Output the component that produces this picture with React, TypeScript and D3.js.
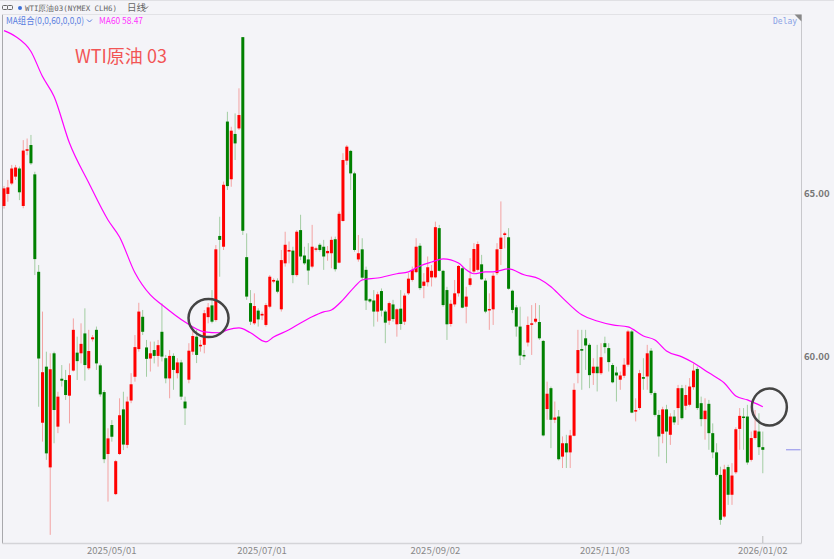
import React from "react";
import * as d3 from "d3";

// OHLC (index 0 .. 197, daily candles)
const opens = [64.63,65.00,65.32,65.53,65.78,64.63,66.33,66.50,65.60,62.61,57.98,59.70,56.61,60.11,57.86,59.33,59.29,58.81,59.58,60.13,60.11,60.72,59.65,60.54,60.83,59.74,58.92,57.02,57.91,55.79,57.02,58.39,57.30,58.66,59.39,60.24,61.23,60.29,59.95,60.21,60.03,60.77,59.96,59.34,60.03,59.50,59.83,58.63,59.30,60.16,60.62,60.34,60.37,61.22,61.58,61.13,63.71,63.38,67.22,65.45,66.84,67.01,69.81,63.06,61.65,61.03,61.42,61.27,60.98,61.54,62.31,62.34,61.46,62.87,63.23,63.26,62.51,63.89,63.11,62.99,62.77,63.30,63.44,63.38,63.18,63.18,63.61,62.89,64.17,66.02,66.32,65.63,62.99,63.30,62.67,61.77,61.73,61.39,62.02,61.39,61.11,61.61,61.00,61.48,61.08,61.95,62.36,62.60,63.41,62.18,62.29,62.44,62.44,63.95,62.64,62.05,61.01,61.61,61.95,62.72,61.54,62.21,62.62,62.67,62.84,62.34,61.44,61.46,62.57,63.31,63.74,63.67,62.03,61.52,60.93,60.06,60.44,60.99,61.08,61.07,60.49,58.40,59.04,58.07,58.17,56.94,57.35,57.07,57.58,59.50,60.24,60.57,60.37,59.50,59.70,59.50,60.42,60.27,59.75,59.52,59.30,59.42,59.76,60.78,58.32,58.43,59.38,59.40,60.19,58.89,58.22,57.64,58.39,57.61,58.17,58.43,59.04,58.50,58.53,59.07,59.63,58.58,58.09,58.56,57.66,57.07,56.38,55.10,56.62,55.77,56.46,57.79,58.17,58.17,56.84,57.51,57.71,57.23];
const highs = [65.24,65.43,65.89,65.89,65.84,66.65,66.70,66.81,65.68,62.82,61.39,60.16,60.11,60.16,58.93,59.75,59.60,59.80,61.18,60.62,61.03,61.49,60.83,60.67,60.93,59.80,58.98,57.81,58.06,56.84,58.73,58.93,58.78,59.50,60.67,61.66,61.44,60.52,60.47,60.47,60.52,61.64,60.06,60.21,60.11,59.96,59.91,58.78,60.42,60.83,60.83,60.52,61.44,61.65,62.05,63.43,64.30,65.38,67.52,67.06,67.47,68.24,69.81,63.79,62.05,61.95,61.49,61.39,61.65,62.51,62.41,62.41,63.28,63.84,63.54,63.38,63.89,64.36,63.38,63.49,64.05,63.38,63.49,63.59,63.40,63.69,63.69,64.46,66.25,66.50,66.35,65.68,63.74,63.64,62.77,61.80,62.05,62.00,62.10,61.44,61.70,61.75,61.49,62.05,61.95,62.57,62.77,63.64,63.49,62.57,63.08,62.82,64.15,64.05,62.67,62.15,61.75,62.36,62.82,62.77,62.15,63.03,63.49,63.54,63.13,62.41,61.95,62.57,63.49,64.77,63.84,63.95,62.06,61.59,61.54,60.21,61.24,61.59,61.65,61.59,60.52,59.24,59.09,58.63,58.37,57.56,57.61,57.76,59.19,60.83,60.83,60.83,60.42,59.96,60.37,60.42,60.62,60.42,59.81,59.70,59.55,59.96,60.83,60.83,58.73,59.60,59.96,60.37,60.27,58.94,58.37,58.47,58.53,58.27,58.37,59.14,59.14,59.14,59.35,59.80,59.70,58.78,58.73,58.68,57.96,57.35,56.63,56.69,56.69,56.74,57.84,58.43,58.43,58.53,57.71,58.37,58.27,57.71];
const lows = [64.55,64.76,65.27,65.43,64.81,64.56,66.19,65.89,62.51,58.47,57.40,56.84,54.54,57.35,57.66,59.09,58.68,57.96,59.55,59.29,59.80,59.27,59.60,60.47,59.60,58.78,56.74,55.56,57.40,55.76,56.99,57.14,57.20,58.58,59.24,60.16,60.67,59.39,59.55,59.80,59.70,59.86,59.19,58.73,58.99,59.34,58.68,57.91,59.19,60.06,59.81,60.16,60.11,61.03,61.03,61.08,62.46,63.28,65.12,65.22,66.04,66.96,63.74,61.75,60.98,60.98,60.93,61.13,60.93,61.49,62.26,61.95,61.39,62.77,62.87,62.26,62.46,62.97,62.82,62.21,62.72,63.23,63.23,62.67,62.95,62.72,62.62,62.87,64.15,65.89,65.12,63.23,62.92,62.36,61.44,61.65,60.93,61.08,61.24,60.42,60.98,61.08,60.62,60.83,60.98,61.90,62.31,62.57,62.05,61.80,62.16,62.16,62.41,62.62,61.54,60.52,60.93,61.54,61.85,61.49,61.03,62.16,62.57,62.62,62.36,61.34,60.83,60.98,62.51,62.82,63.33,62.06,61.34,60.62,59.75,59.91,60.32,60.06,61.03,60.52,57.56,58.07,57.20,57.97,56.82,56.59,56.59,56.59,57.56,59.19,58.99,59.60,59.04,59.14,58.94,59.45,60.11,59.55,59.19,58.63,58.99,59.35,59.70,58.27,58.02,58.37,58.99,58.99,58.83,58.17,56.94,57.35,56.74,57.30,57.91,57.91,58.07,58.37,58.48,58.99,58.37,57.87,57.46,57.15,56.89,56.33,54.85,55.05,55.46,55.46,56.41,57.15,57.15,56.69,56.79,57.46,56.99,56.43];
const closes = [65.17,65.20,65.78,65.81,65.05,66.33,66.37,65.94,63.00,59.95,59.53,57.04,59.62,58.37,58.78,59.27,58.83,59.44,60.83,59.87,60.40,59.75,60.18,60.60,59.80,58.85,56.86,57.50,57.55,56.80,58.21,57.31,58.63,59.16,60.30,61.39,60.77,59.94,60.11,60.03,60.36,60.01,59.34,60.03,59.60,59.83,58.78,58.42,60.19,60.64,60.06,60.37,61.34,61.52,61.08,63.30,63.59,65.28,65.24,66.94,66.55,67.42,63.87,61.85,61.08,61.56,61.15,61.32,61.59,62.46,62.36,62.00,62.97,63.44,63.28,62.51,63.84,63.08,62.87,62.65,63.38,63.33,63.28,63.08,63.25,63.59,62.69,64.39,66.04,66.45,65.63,63.28,63.18,62.43,61.73,61.70,61.39,61.92,61.42,61.05,61.65,61.16,61.46,61.01,61.88,62.40,62.67,63.38,62.11,62.31,62.75,62.64,63.98,62.64,61.59,61.00,61.63,61.95,62.79,61.51,61.85,62.41,63.31,63.46,62.38,61.39,61.47,62.49,63.30,63.66,63.79,62.09,61.44,60.93,60.04,60.03,60.98,61.03,61.17,60.57,57.59,58.87,58.07,58.14,56.86,57.35,57.07,57.59,58.99,60.21,60.19,60.35,59.44,59.70,59.50,59.99,60.30,59.84,59.22,59.43,59.43,59.76,60.78,58.29,58.37,59.50,59.33,60.11,58.89,58.22,57.56,58.39,57.71,58.17,57.99,59.04,58.12,58.83,59.09,59.58,58.43,58.09,58.35,57.66,57.07,56.38,55.00,56.55,55.77,56.36,57.78,58.19,58.14,56.76,57.51,57.74,57.23,57.15];

// MA60 line (candle index, value)
const maIdx = [0,3,7,10,13,17,22,27,30,34,38,41,47,52,56,58,61,64,68,70,74,77,80,83,85,88,91,93,97,102,105,108,111,114,118,120,122,125,127,131,135,139,142,145,150,154,158,162,166,169,172,176,179,183,187,190,193,197];
const maVal = [70.01,69.83,69.37,68.60,67.99,66.56,65.34,64.20,63.68,62.58,61.90,61.60,61.07,60.77,60.74,60.83,60.89,60.74,60.46,60.61,60.83,61.04,61.23,61.38,61.44,61.75,62.15,62.36,62.42,62.55,62.61,62.79,62.91,63.01,62.88,62.67,62.55,62.61,62.61,62.70,62.52,62.39,62.15,61.81,61.29,61.10,60.98,60.92,60.64,60.52,60.18,60.00,59.82,59.51,59.20,58.80,58.68,58.47];

const dateLabels = ["2025/05/01", "2025/07/01", "2025/09/02", "2025/11/03", "2026/01/02"];
const dateIdx = [28, 67, 112, 156, 197];
const priceTicks = [60, 65];

// annotation circles (candle index, price)
const circleIdx = [53.1, 198.7];
const circleVal = [61.19, 58.46];

const lastPrice = 57.15;

const W = 834, H = 559;
const plotL = 2.5, plotR = 801.5, plotT = 14.5, plotB = 543.5;

export default function App() {
  const x = d3.scaleLinear().domain([0, 197]).range([4, 762.8]);
  const y = d3.scaleLinear().domain([54.29, 70.52]).range([543, 14]);
  const candles = opens.map((o, i) => ({ i, o, h: highs[i], l: lows[i], c: closes[i] }));
  const ma = maIdx.map((d, k) => [d, maVal[k]] as [number, number]);
  const line = d3.line<[number, number]>().x(d => x(d[0])).y(d => y(d[1])).curve(d3.curveMonotoneX);
  const RED = "#ff0000", GREEN = "#008000";
  const bw = 3;

  return (
    <svg width={W} height={H} style={{ position: "absolute", left: 0, top: 0, background: "#f4f4f8" }}
      fontFamily="'Noto Sans CJK SC', 'Noto Sans', sans-serif">
      <rect x={0} y={0} width={W} height={H} fill="#f4f4f8" />
      {/* frame */}
      <line x1={plotL} x2={plotL} y1={plotT} y2={plotB} stroke="#a8a8ac" />
      <line x1={plotR} x2={plotR} y1={plotT} y2={plotB} stroke="#c8c8cc" />
      <line x1={plotL} x2={plotR} y1={plotB} y2={plotB} stroke="#d4d4d8" strokeWidth={1.5} />
      <line x1={plotL} x2={plotR} y1={plotT} y2={plotT} stroke="#e2e2e6" />
      <path d={`M${plotR - 7},${plotT} L${plotR},${plotT} L${plotR},${plotT + 7} Z`} fill="#888" />
      <line x1={0} x2={W} y1={0.5} y2={0.5} stroke="#e0e0e4" />

      {/* header */}
      <g fill="none" stroke="#666" strokeWidth={1}>
        <rect x={2.5} y={5.5} width={5} height={4} rx={1} />
        <rect x={7.5} y={5.5} width={5} height={4} rx={1} />
      </g>
      <circle cx={20} cy={8} r={2} fill="#3b6fd8" />
      <text x={25} y={11} fontSize={7.5} fill="#666" fontFamily="'DejaVu Sans Mono', monospace" textLength={92} lengthAdjust="spacingAndGlyphs">WTI原油03(NYMEX CLH6)</text>
      <text x={127} y={11} fontSize={9.5} fill="#666">日线</text>
      <path d="M143,6.5 L145.5,9 L148,6.5" fill="none" stroke="#666" strokeWidth={1} />
      <text x={6} y={24} fontSize={9.5} fill="#5b80e0" textLength={78} lengthAdjust="spacingAndGlyphs">MA组合(0,0,60,0,0,0)</text>
      <path d="M87,19.5 L89.5,22 L92,19.5" fill="none" stroke="#5b80e0" strokeWidth={1} />
      <text x={99} y={24} fontSize={9.5} fill="#ff33ff" textLength={44} lengthAdjust="spacingAndGlyphs">MA60 58.47</text>
      <text x={773} y={24} fontSize={8} fill="#8aa2e6" fontFamily="'DejaVu Sans Mono', monospace">Delay</text>

      {/* title */}
      <text x={75} y={63} fontSize={18} fill="#f25555">WTI原油 03</text>

      {/* y axis labels */}
      {priceTicks.map(t => (
        <text key={t} x={804} y={y(t) + 3.5} fontSize={9.5} fill="#777" fontWeight="bold">{t.toFixed(2)}</text>
      ))}

      {/* x axis labels */}
      {dateLabels.map((lab, k) => (
        <text key={lab} x={x(dateIdx[k])} y={554} fontSize={9.5} fill="#888" textAnchor="middle">{lab}</text>
      ))}
      <line x1={x(dateIdx[dateIdx.length - 1])} x2={x(dateIdx[dateIdx.length - 1])} y1={536} y2={543} stroke="#bbb" />

      {/* wicks */}
      {candles.map(d => (
        <line key={"w" + d.i} x1={x(d.i)} x2={x(d.i)} y1={y(d.h)} y2={y(d.l)}
          stroke={d.c >= d.o ? "#f3a3a3" : "#a3cda3"} strokeWidth={1} />
      ))}
      {/* bodies */}
      {candles.map(d => {
        const top = y(Math.max(d.o, d.c));
        const bot = y(Math.min(d.o, d.c));
        return (
          <rect key={"b" + d.i} x={x(d.i) - bw / 2} y={top} width={bw} height={Math.max(bot - top, 1.5)}
            fill={d.c >= d.o ? RED : GREEN} />
        );
      })}

      {/* MA60 */}
      <path d={line(ma) || ""} fill="none" stroke="#ff00ff" strokeWidth={1.2} />

      {/* last price marker */}
      <line x1={786} x2={plotR - 1} y1={y(lastPrice)} y2={y(lastPrice)} stroke="#8a8aea" strokeWidth={1} />

      {/* annotation circles */}
      {circleIdx.map((ci, k) => (
        <ellipse key={k} cx={x(ci)} cy={y(circleVal[k])} rx={k === 0 ? 20 : 17.5} ry={k === 0 ? 19 : 18.5}
          fill="none" stroke="#444" strokeWidth={2.5} />
      ))}
    </svg>
  );
}
